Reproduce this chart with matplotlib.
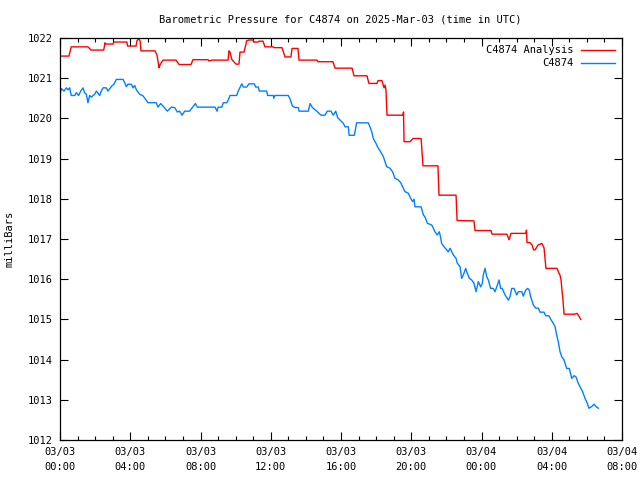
import numpy as np
import matplotlib
matplotlib.use("Agg")
import matplotlib.pyplot as plt

# hours since 2025-03-03 00:00 UTC, pressure in mb
an_hours = [0, 0.51, 0.64, 1.59, 1.77, 2.49, 2.56, 2.62, 3.02, 3.07, 3.81, 3.84, 4.33, 4.38, 4.50, 4.56,
            4.61, 5.41, 5.52, 5.64, 5.69, 5.86, 6.61, 6.78, 7.46, 7.57, 8.43, 8.48, 8.65, 9.57, 9.62,
            9.68, 9.78, 10.02, 10.19, 10.25, 10.48, 10.63, 10.76, 10.99, 11.05, 11.27, 11.33, 11.56,
            11.67, 12.13, 12.19, 12.64, 12.70, 12.81, 13.15, 13.21, 13.55, 13.61, 14.63, 14.69, 15.54,
            15.66, 16.63, 16.74, 17.48, 17.59, 18.05, 18.11, 18.33, 18.45, 18.51, 18.56, 18.62, 19.53,
            19.56, 19.59, 19.93, 20.10, 20.56, 20.67, 21.52, 21.58, 22.55, 22.61, 23.57, 23.63, 24.54,
            24.60, 25.45, 25.57, 25.68, 26.53, 26.56, 26.59, 26.76, 26.88, 26.96, 27.05, 27.22, 27.44,
            27.56, 27.67, 28.30, 28.41, 28.47, 28.53, 28.58, 28.64, 28.70, 29.32, 29.44, 29.55, 29.65]
an_mb = [1021.55, 1021.55, 1021.78, 1021.78, 1021.70, 1021.70, 1021.88, 1021.85, 1021.85, 1021.90,
         1021.90, 1021.80, 1021.80, 1021.93, 1021.98, 1021.93, 1021.68, 1021.68, 1021.58, 1021.26,
         1021.33, 1021.45, 1021.45, 1021.34, 1021.34, 1021.46, 1021.46, 1021.43, 1021.45, 1021.45,
         1021.68, 1021.65, 1021.47, 1021.35, 1021.35, 1021.65, 1021.65, 1021.93, 1021.95, 1021.95,
         1021.90, 1021.90, 1021.92, 1021.92, 1021.78, 1021.78, 1021.76, 1021.76, 1021.68, 1021.53,
         1021.53, 1021.74, 1021.74, 1021.45, 1021.45, 1021.41, 1021.41, 1021.25, 1021.25, 1021.06,
         1021.06, 1020.87, 1020.87, 1020.94, 1020.94, 1020.76, 1020.83, 1020.71, 1020.08, 1020.08,
         1020.16, 1019.42, 1019.42, 1019.50, 1019.50, 1018.82, 1018.82, 1018.09, 1018.09, 1017.46,
         1017.45, 1017.21, 1017.21, 1017.12, 1017.12, 1016.98, 1017.14, 1017.14, 1017.22, 1016.91,
         1016.91, 1016.85, 1016.73, 1016.73, 1016.85, 1016.89, 1016.78, 1016.27, 1016.27, 1016.15,
         1016.10, 1015.98, 1015.73, 1015.48, 1015.13, 1015.13, 1015.15, 1015.08, 1015.00]

ob_hours = [0, 0.08, 0.23, 0.36, 0.46, 0.55, 0.64, 0.84, 0.93, 1.06, 1.18, 1.31, 1.40, 1.50, 1.59, 1.69,
            1.78, 1.97, 2.07, 2.26, 2.35, 2.45, 2.64, 2.73, 2.83, 2.96, 3.07, 3.21, 3.59, 3.68, 3.78,
            3.87, 4.06, 4.16, 4.25, 4.35, 4.54, 4.73, 4.86, 5.01, 5.48, 5.58, 5.73, 5.92, 6.11, 6.34,
            6.53, 6.68, 6.81, 6.95, 7.10, 7.38, 7.57, 7.71, 7.82, 8.43, 8.83, 8.94, 9.01, 9.21, 9.30,
            9.49, 9.55, 9.68, 10.06, 10.15, 10.29, 10.35, 10.44, 10.63, 10.76, 11.06, 11.14, 11.29,
            11.35, 11.77, 11.82, 12.15, 12.17, 12.24, 13.00, 13.10, 13.23, 13.38, 13.57, 13.61, 14.14,
            14.24, 14.37, 14.62, 14.86, 15.09, 15.22, 15.43, 15.56, 15.70, 15.81, 15.94, 16.13, 16.23,
            16.42, 16.46, 16.76, 16.89, 17.55, 17.65, 17.75, 17.84, 17.99, 18.12, 18.26, 18.41, 18.51,
            18.60, 18.79, 18.94, 19.07, 19.26, 19.40, 19.55, 19.64, 19.83, 19.97, 20.08, 20.16, 20.21,
            20.56, 20.69, 20.78, 20.92, 21.16, 21.26, 21.35, 21.48, 21.60, 21.68, 21.73, 21.86, 22.02,
            22.11, 22.21, 22.40, 22.55, 22.62, 22.78, 22.87, 22.96, 23.10, 23.19, 23.31, 23.44, 23.57,
            23.69, 23.82, 23.95, 24.05, 24.10, 24.20, 24.30, 24.39, 24.52, 24.67, 24.77, 24.87, 25.00,
            25.09, 25.18, 25.34, 25.53, 25.62, 25.72, 25.85, 26.00, 26.10, 26.29, 26.38, 26.52, 26.63,
            26.72, 26.80, 26.95, 27.09, 27.24, 27.33, 27.56, 27.66, 27.84, 27.96, 28.09, 28.19, 28.28,
            28.37, 28.47, 28.57, 28.70, 28.85, 29.00, 29.14, 29.27, 29.38, 29.51, 29.65, 29.76, 29.89,
            29.99, 30.12, 30.27, 30.41, 30.52, 30.65]
ob_mb = [1020.60, 1020.74, 1020.68, 1020.76, 1020.71, 1020.76, 1020.57, 1020.57, 1020.64, 1020.57,
         1020.68, 1020.76, 1020.64, 1020.60, 1020.39, 1020.57, 1020.53, 1020.60, 1020.68, 1020.57,
         1020.68, 1020.76, 1020.76, 1020.68, 1020.74, 1020.81, 1020.85, 1020.97, 1020.97, 1020.89,
         1020.79, 1020.85, 1020.85, 1020.76, 1020.82, 1020.71, 1020.60, 1020.56, 1020.48, 1020.39,
         1020.39, 1020.28, 1020.37, 1020.28, 1020.18, 1020.28, 1020.27, 1020.16, 1020.18, 1020.08,
         1020.18, 1020.18, 1020.29, 1020.37, 1020.28, 1020.28, 1020.28, 1020.18, 1020.28, 1020.28,
         1020.39, 1020.39, 1020.43, 1020.57, 1020.57, 1020.68, 1020.81, 1020.86, 1020.78, 1020.78,
         1020.86, 1020.86, 1020.78, 1020.78, 1020.68, 1020.68, 1020.57, 1020.57, 1020.50, 1020.57,
         1020.57, 1020.48, 1020.31, 1020.27, 1020.27, 1020.18, 1020.18, 1020.37, 1020.27, 1020.18,
         1020.08, 1020.08, 1020.18, 1020.18, 1020.08, 1020.18, 1020.02, 1019.96, 1019.88, 1019.79,
         1019.79, 1019.58, 1019.58, 1019.89, 1019.89, 1019.79, 1019.67, 1019.50, 1019.38, 1019.26,
         1019.17, 1019.05, 1018.92, 1018.80, 1018.76, 1018.67, 1018.51, 1018.47, 1018.40, 1018.26,
         1018.18, 1018.14, 1018.01, 1017.93, 1017.99, 1017.80, 1017.80, 1017.60, 1017.55, 1017.39,
         1017.35, 1017.27, 1017.18, 1017.10, 1017.18, 1017.02, 1016.89, 1016.81, 1016.73, 1016.68,
         1016.77, 1016.60, 1016.52, 1016.40, 1016.31, 1016.02, 1016.10, 1016.27, 1016.15, 1016.02,
         1015.98, 1015.90, 1015.69, 1015.94, 1015.81, 1015.90, 1016.10, 1016.27, 1016.06, 1015.98,
         1015.77, 1015.77, 1015.69, 1015.81, 1015.98, 1015.77, 1015.77, 1015.61, 1015.48, 1015.56,
         1015.77, 1015.77, 1015.61, 1015.69, 1015.69, 1015.58, 1015.73, 1015.77, 1015.73, 1015.56,
         1015.36, 1015.28, 1015.28, 1015.18, 1015.18, 1015.09, 1015.09, 1014.99, 1014.90, 1014.82,
         1014.61, 1014.45, 1014.20, 1014.07, 1013.99, 1013.78, 1013.78, 1013.53, 1013.60, 1013.57,
         1013.41, 1013.29, 1013.20, 1013.04, 1012.95, 1012.79, 1012.83, 1012.89, 1012.83, 1012.79]

xtick_hours = [0, 4, 8, 12, 16, 20, 24, 28, 32]
xtick_labels = ["03/03\n00:00", "03/03\n04:00", "03/03\n08:00", "03/03\n12:00", "03/03\n16:00",
                "03/03\n20:00", "03/04\n00:00", "03/04\n04:00", "03/04\n08:00"]
yticks = list(range(1012, 1023))

plt.rcParams['font.family'] = 'DejaVu Sans Mono'
fs = 7.5

fig = plt.figure(figsize=(6.4, 4.8), dpi=100)
ax = fig.add_axes([60/640, 40/480, 562/640, 402/480])

ax.plot(an_hours, an_mb, color='#ff0000', lw=1.0, label='C4874 Analysis')
ax.plot(ob_hours, ob_mb, color='#0080ff', lw=1.0, label='C4874')

ax.set_xlim(0, 32)
ax.set_ylim(1012, 1022)
ax.set_xticks(xtick_hours)
ax.set_xticklabels(xtick_labels, fontsize=fs, linespacing=1.6)
ax.set_xticks(np.arange(0, 33, 1), minor=True)
ax.set_yticks(yticks)
ax.set_yticklabels([str(v) for v in yticks], fontsize=fs)
ax.tick_params(which='both', direction='in', top=True, right=True, width=0.8)
ax.tick_params(which='major', length=6, pad=5)
ax.tick_params(which='minor', length=3)
for s in ax.spines.values():
    s.set_linewidth(0.9)

ax.set_ylabel('milliBars', fontsize=fs, labelpad=10)
fig.text(340/640, 1 - 19/480, 'Barometric Pressure for C4874 on 2025-Mar-03 (time in UTC)',
         ha='center', va='center', fontsize=fs)

ax.legend(loc='upper right', bbox_to_anchor=(1.0, 1.0), frameon=False, markerfirst=False,
          fontsize=fs, handlelength=3.2, handletextpad=0.8, labelspacing=0.3, borderaxespad=0.3)

fig.savefig('out.png', dpi=100)
